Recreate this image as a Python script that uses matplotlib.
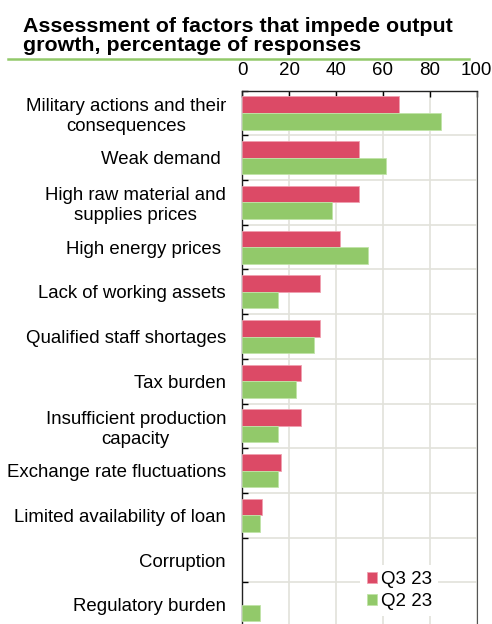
import matplotlib
matplotlib.use("Agg")
import matplotlib.pyplot as plt
import numpy as np

plt.rcParams['font.family'] = ['Liberation Sans', 'DejaVu Sans']

categories = [
    "Military actions and their\nconsequences",
    "Weak demand ",
    "High raw material and\nsupplies prices",
    "High energy prices ",
    "Lack of working assets",
    "Qualified staff shortages",
    "Tax burden",
    "Insufficient production\ncapacity",
    "Exchange rate fluctuations",
    "Limited availability of loan",
    "Corruption",
    "Regulatory burden",
]
q3_23 = [66.7, 50.0, 50.0, 41.7, 33.3, 33.3, 25.0, 25.0, 16.7, 8.3, 0.0, 0.0]
q2_23 = [84.6, 61.5, 38.5, 53.8, 15.4, 30.8, 23.1, 15.4, 15.4, 7.7, 0.0, 7.7]
series_names = ["Q3 23", "Q2 23"]

red = "#dc4a66"
green = "#92c96a"
grid_col = "#e2e2da"

fig = plt.figure(figsize=(4.92, 6.24), dpi=100)
ax = fig.add_axes([0.492, -0.005, 0.477, 0.8597])

y = np.arange(len(categories))
h = 0.37
# zero-width bars would still show their edge, so skip edges for empty values
ax.barh(y - 0.185, q3_23, height=h, color=red, edgecolor=[("#f0a0b0" if v > 0 else "none") for v in q3_23],
        linewidth=0.6, label=series_names[0], zorder=3)
ax.barh(y + 0.185, q2_23, height=h, color=green, edgecolor=[("#c0e4a8" if v > 0 else "none") for v in q2_23],
        linewidth=0.6, label=series_names[1], zorder=3)

ax.set_xlim(0, 100)
ax.set_ylim(len(categories) - 0.5, -0.5)
ax.xaxis.tick_top()
ax.set_xticks(range(0, 101, 20))
ax.tick_params(axis="x", direction="in", length=4, width=1, labelsize=13.5, pad=8.5)
ax.set_yticks(y)
ax.set_yticklabels(categories, multialignment="center")
ax.tick_params(axis="y", which="major", length=0, labelsize=13.4, pad=11.5)
ax.set_yticks(np.arange(len(categories) + 1) - 0.5, minor=True)
ax.tick_params(axis="y", which="minor", direction="in", length=4, width=1)

ax.grid(axis="x", color=grid_col, linewidth=1.2, zorder=0)
ax.grid(axis="y", which="minor", color=grid_col, linewidth=1.2, zorder=0)
ax.set_axisbelow(True)

for side in ["top", "left"]:
    ax.spines[side].set_color("#222222")
    ax.spines[side].set_linewidth(1.0)
ax.spines["right"].set_color("#555555")
ax.spines["bottom"].set_visible(False)

leg = ax.legend(loc="lower right", bbox_to_anchor=(0.836, 0.02), frameon=True,
                fancybox=False, edgecolor="none", framealpha=1, fontsize=13.5,
                handlelength=0.55, handleheight=0.55, handletextpad=0.2,
                labelspacing=0.25, borderpad=0.35, borderaxespad=0.0)

fig.text(0.046, 0.973, "Assessment of factors that impede output\ngrowth, percentage of responses",
         fontsize=15.4, fontweight="bold", va="top", ha="left", linespacing=1.0)
fig.add_artist(plt.Line2D([0.016, 0.953], [0.906, 0.906], color=green, linewidth=1.8))

fig.savefig("out.png", dpi=100)
